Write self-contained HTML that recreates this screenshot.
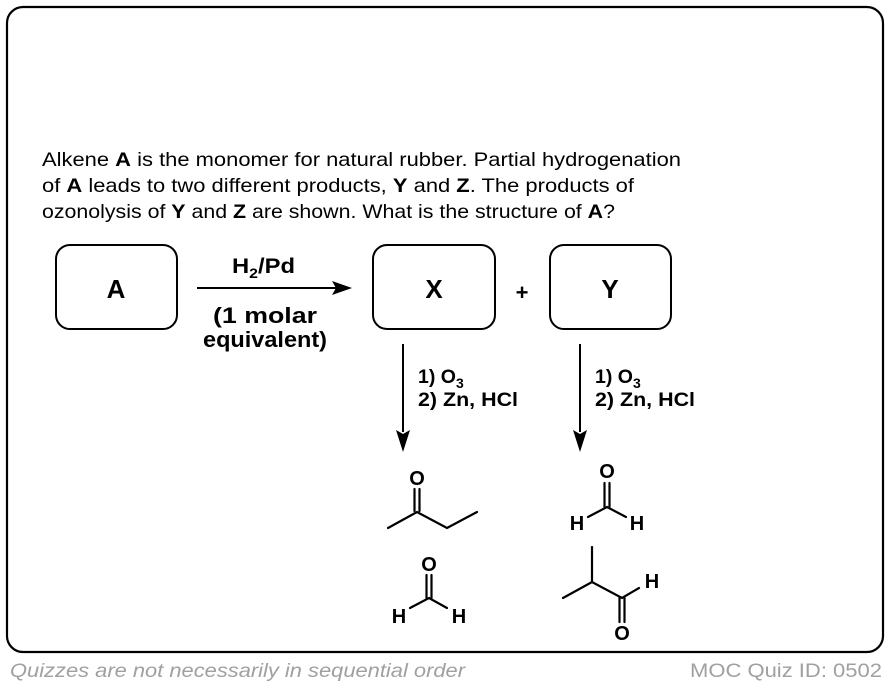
<!DOCTYPE html>
<html><head><meta charset="utf-8"><style>
html,body{margin:0;padding:0;background:#fff;}
svg{display:block;}
</style></head><body>
<svg width="890" height="686" viewBox="0 0 890 686" xmlns="http://www.w3.org/2000/svg" font-family="Liberation Sans, Arial, sans-serif">
<rect x="7" y="7" width="876" height="645" rx="16" fill="#fff" stroke="#000" stroke-width="2.2"/>
<g font-size="19.5" fill="#000">
<text x="42" y="166" textLength="639" lengthAdjust="spacingAndGlyphs">Alkene <tspan font-weight="bold">A</tspan> is the monomer for natural rubber. Partial hydrogenation</text>
<text x="42" y="192" textLength="592" lengthAdjust="spacingAndGlyphs">of <tspan font-weight="bold">A</tspan> leads to two different products, <tspan font-weight="bold">Y</tspan> and <tspan font-weight="bold">Z</tspan>. The products of</text>
<text x="42" y="218" textLength="573" lengthAdjust="spacingAndGlyphs">ozonolysis of <tspan font-weight="bold">Y</tspan> and <tspan font-weight="bold">Z</tspan> are shown. What is the structure of <tspan font-weight="bold">A</tspan>?</text>
</g>
<g fill="none" stroke="#000" stroke-width="2">
<rect x="56" y="245" width="121" height="84" rx="14"/>
<rect x="373" y="245" width="122" height="84" rx="14"/>
<rect x="550" y="245" width="121" height="84" rx="14"/>
</g>
<g font-weight="bold" font-size="26" text-anchor="middle">
<text x="116" y="298">A</text>
<text x="434" y="298">X</text>
<text x="610" y="298">Y</text>
</g>
<text x="522" y="300" font-weight="bold" font-size="22" text-anchor="middle">+</text>
<line x1="197" y1="288" x2="338" y2="288" stroke="#000" stroke-width="2"/>
<polygon points="352,288 332,281 336,288 332,295" fill="#000"/>
<g font-weight="bold" font-size="22">
<text x="232" y="273" font-size="21" textLength="63" lengthAdjust="spacingAndGlyphs">H<tspan font-size="14" dy="5">2</tspan><tspan dy="-5">/Pd</tspan></text>
<text x="213" y="323" textLength="104" lengthAdjust="spacingAndGlyphs">(1 molar</text>
<text x="203" y="347" textLength="124" lengthAdjust="spacingAndGlyphs">equivalent)</text>
</g>
<g stroke="#000" stroke-width="2">
<line x1="403" y1="344" x2="403" y2="432"/>
<line x1="580" y1="344" x2="580" y2="432"/>
</g>
<polygon points="403,452 396,430 403,434 410,430" fill="#000"/>
<polygon points="580,452 573,430 580,434 587,430" fill="#000"/>
<g font-weight="bold" font-size="19.5">
<text x="418" y="383">1) O<tspan font-size="14" dy="5">3</tspan></text>
<text x="418" y="406" textLength="100" lengthAdjust="spacingAndGlyphs">2) Zn, HCl</text>
<text x="595" y="383">1) O<tspan font-size="14" dy="5">3</tspan></text>
<text x="595" y="406" textLength="100" lengthAdjust="spacingAndGlyphs">2) Zn, HCl</text>
</g>
<g stroke="#000" stroke-width="2.2" fill="none" stroke-linecap="round">
<polyline points="388,528 417,512 447,528 477,512"/>
<line x1="414.5" y1="511" x2="414.5" y2="489"/><line x1="419.5" y1="511" x2="419.5" y2="489"/>
<polyline points="410,608 429,598 447,608"/>
<line x1="426.5" y1="598" x2="426.5" y2="575"/><line x1="431.5" y1="598" x2="431.5" y2="575"/>
<polyline points="588,517 607,507 626,517"/>
<line x1="604.5" y1="507" x2="604.5" y2="483"/><line x1="609.5" y1="507" x2="609.5" y2="483"/>
<line x1="592" y1="547" x2="592" y2="582"/>
<polyline points="563,598 592,582 622,598 639,588"/>
<line x1="619.5" y1="598" x2="619.5" y2="622"/><line x1="624.5" y1="598" x2="624.5" y2="622"/>
</g>
<g font-weight="bold" font-size="20" text-anchor="middle">
<text x="417" y="485">O</text>
<text x="429" y="571">O</text>
<text x="399" y="623">H</text>
<text x="459" y="623">H</text>
<text x="607" y="478">O</text>
<text x="577" y="530">H</text>
<text x="637" y="530">H</text>
<text x="652" y="588">H</text>
<text x="622" y="640">O</text>
</g>
<text x="10" y="677" font-size="19.5" font-style="italic" fill="#a0a0a0" textLength="455" lengthAdjust="spacingAndGlyphs">Quizzes are not necessarily in sequential order</text>
<text x="690" y="677" font-size="19.5" fill="#a0a0a0" textLength="192" lengthAdjust="spacingAndGlyphs">MOC Quiz ID: 0502</text>
</svg>
</body></html>
